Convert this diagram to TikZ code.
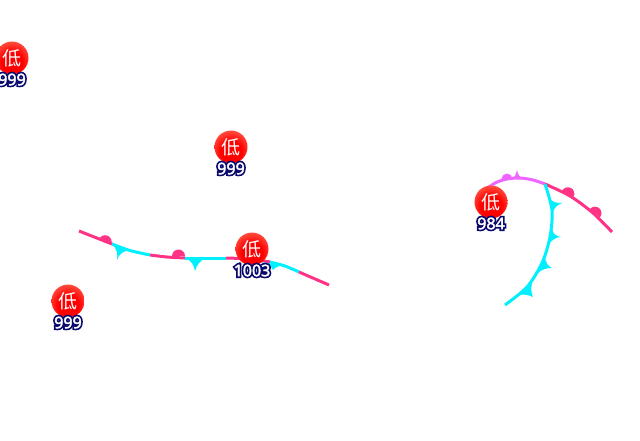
\documentclass[tikz,border=0pt]{standalone}
\usepackage{fontspec}
\setmainfont{Noto Sans}
\newfontfamily\cjkfont{Noto Sans CJK SC}
\usepackage{tikz}
\usetikzlibrary{shapes, positioning}
\definecolor{warmpink}{HTML}{FF3385}
\definecolor{coldcyan}{HTML}{00F0FF}
\definecolor{occlmag}{HTML}{EE66FF}
\definecolor{ballrim}{HTML}{FF8A70}
\pgfdeclareradialshading{lowball}{\pgfpoint{0bp}{-8bp}}{color(0bp)=(red); color(16bp)=(red); color(42bp)=(ballrim); color(100bp)=(ballrim)}
\newcommand{\halotext}[1]{\leavevmode\rlap{\special{pdf:code 2 Tr 3.8 w 0.04 0.04 0.43 RG 0.04 0.04 0.43 rg}#1\special{pdf:code 2 Tr 0.35 w 1 1 1 rg 1 1 1 RG}}#1\special{pdf:code 0 Tr 1 w}}
\begin{document}
\begin{tikzpicture}[x=1pt, y=-1pt, node distance={21.5pt},
    low/.style = {circle, minimum size=33pt, inner sep=0pt, shading=lowball, text=white, font=\cjkfont\fontsize{19}{19}\selectfont},
    press/.style = {inner sep=0pt, text=white, font=\fontsize{16}{16}\selectfont},
    front/.style = {line width=3pt, line cap=butt},
    warm/.style = {front, warmpink},
    cold/.style = {front, coldcyan},
    occl/.style = {front, occlmag}]
    \clip (0,0) rectangle (640,440);

    \draw[warm] (79,231) -- (112,244);
    \draw[cold] plot[smooth] coordinates {(112,244) (130,250.5) (150,255)};
    \draw[warm] plot[smooth] coordinates {(150,255) (167,257) (185,258)};
    \draw[cold] (185,258) -- (226,258);
    \draw[warm] plot[smooth] coordinates {(226,258) (250,259) (270,262)};
    \draw[cold] plot[smooth] coordinates {(270,262) (285,266) (299,272)};
    \draw[warm] (299,272) -- (329,285);

    \fill[warmpink] (99,239.5) arc[start angle=200, end angle=380, radius=6.5] -- cycle;
    \fill[warmpink] (172,256) arc[start angle=180, end angle=360, radius=6.5] -- cycle;
    \fill[coldcyan] (112,244) .. controls (117,249) and (118,254) .. (117,260) .. controls (119,254) and (123,251) .. (130,250) -- cycle;
    \fill[coldcyan] (185,258) .. controls (191,260) and (194,265) .. (195,271) .. controls (197,265) and (200,260) .. (206,258) -- cycle;
    \fill[coldcyan] (262,262) .. controls (268,264) and (271,266) .. (273,270) .. controls (276,267) and (279,265) .. (284,266) -- cycle;

    \draw[occl] plot[smooth] coordinates {(486,189) (496,182.5) (507,179) (520,178) (533,180) (545,184)};
    \draw[warm] plot[smooth] coordinates {(545,184) (570,196) (593,213) (612,232)};
    \draw[cold] plot[smooth] coordinates {(505,305) (527,287) (542,263) (550,237) (552,210) (545,184)};

    \fill[occlmag] (501.5,179) arc[start angle=180, end angle=360, radius=5.5] -- cycle;
    \fill[occlmag] (511,179) .. controls (515,178) and (516,174) .. (517,170) .. controls (518,174) and (519,177) .. (523,178) -- cycle;
    \fill[warmpink] (562,191) arc[start angle=205, end angle=385, radius=6.5] -- cycle;
    \fill[warmpink] (590,209) arc[start angle=220, end angle=400, radius=6.5] -- cycle;
    \fill[coldcyan] (548,197) .. controls (553,203) and (557,203) .. (562,203) .. controls (557,205) and (554,208) .. (552,214) -- cycle;
    \fill[coldcyan] (552,229) .. controls (553,234) and (556,236) .. (561,237) .. controls (556,237) and (552,240) .. (549,244) -- cycle;
    \fill[coldcyan] (545,258) .. controls (546,263) and (548,266) .. (552,268) .. controls (547,268) and (542,269) .. (538,273) -- cycle;
    \fill[coldcyan] (532,283) .. controls (531,288) and (531,293) .. (533,297) .. controls (529,295) and (524,294) .. (520,295) -- cycle;

    \node[low] (a) at (12,58)   {低};
    \node[press] (pa) [below of=a] {\halotext{999}};
    \node[low] (b) at (231,147) {低};
    \node[press] (pb) [below of=b] {\halotext{999}};
    \node[low] (c) at (252,249) {低};
    \node[press] (pc) [below of=c] {\halotext{1003}};
    \node[low] (d) at (68,301)  {低};
    \node[press] (pd) [below of=d] {\halotext{999}};
    \node[low] (e) at (491,202) {低};
    \node[press] (pe) [below of=e] {\halotext{984}};
\end{tikzpicture}
\end{document}
